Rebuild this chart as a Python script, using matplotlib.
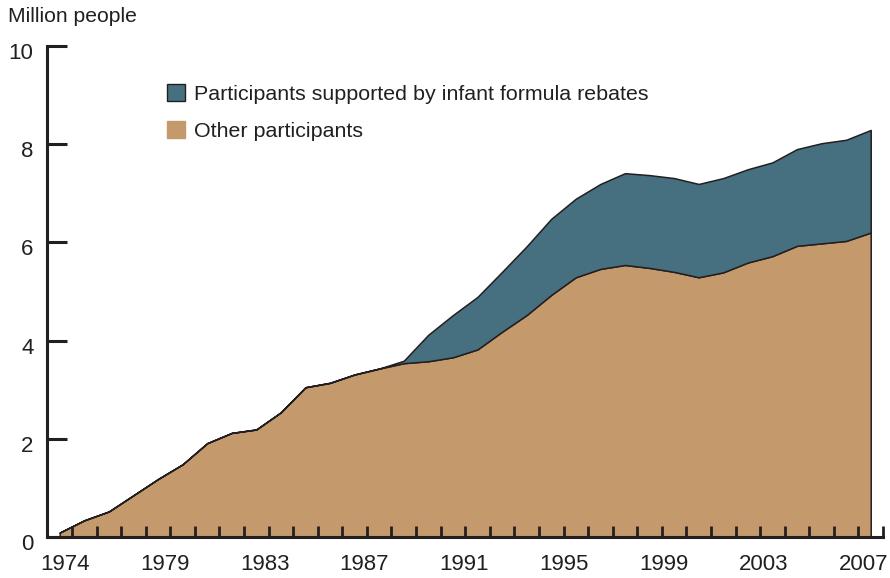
import numpy as np
import matplotlib
matplotlib.use("Agg")
import matplotlib.pyplot as plt
from matplotlib.patches import Patch
from matplotlib.transforms import ScaledTranslation

plt.rcParams['font.family'] = ['Liberation Sans', 'DejaVu Sans']

# ---- data ----
years = list(range(1974, 2008))
all_participants = [0.09, 0.34, 0.52, 0.85, 1.18, 1.48, 1.91, 2.12, 2.19, 2.54,
                    3.05, 3.14, 3.31, 3.43, 3.59, 4.12, 4.52, 4.89, 5.40, 5.92,
                    6.48, 6.89, 7.19, 7.41, 7.37, 7.31, 7.19, 7.31, 7.49, 7.63,
                    7.90, 8.02, 8.09, 8.29]
other_participants = [0.09, 0.34, 0.52, 0.85, 1.18, 1.48, 1.91, 2.12, 2.19, 2.54,
                      3.05, 3.14, 3.31, 3.43, 3.54, 3.58, 3.66, 3.82, 4.18, 4.52,
                      4.93, 5.29, 5.46, 5.54, 5.48, 5.40, 5.29, 5.39, 5.59, 5.72,
                      5.93, 5.98, 6.03, 6.20]
xtick_labels = ['1974', '1979', '1983', '1987', '1991', '1995', '1999', '2003', '2007']
yticks = [0, 2, 4, 6, 8, 10]
series_names = ['Participants supported by infant formula rebates', 'Other participants']

BLUE = '#466F80'
TAN = '#C49A6C'
DARK = '#231F20'

W, H = 890, 578
fig = plt.figure(figsize=(W / 100, H / 100), dpi=100)
ax = fig.add_axes([47.4 / W, 1 - 537 / H, (883 - 47.4) / W, (537 - 46) / H])

x = np.arange(len(years))
other = np.array(other_participants)
total = np.array(all_participants)

ax.fill_between(x, 0, other, facecolor=TAN, edgecolor=DARK, linewidth=1.1, zorder=2)
ax.fill_between(x, other, total, facecolor=BLUE, edgecolor=DARK, linewidth=1.1, zorder=2)

ax.set_xlim(-0.5, len(years) - 0.5)
ax.set_ylim(0, 10)

for s in ['top', 'right']:
    ax.spines[s].set_visible(False)
for s in ['left', 'bottom']:
    ax.spines[s].set_linewidth(2.2)
    ax.spines[s].set_color(DARK)
    ax.spines[s].set_zorder(5)
    ax.spines[s].set_capstyle('projecting')

# y ticks
ax.set_yticks(yticks)
ax.set_yticklabels([str(v) for v in yticks])
ax.tick_params(axis='y', direction='in', length=14.5, width=2.2, color=DARK,
               labelsize=16, labelcolor=DARK, pad=10)
for lab in ax.get_yticklabels():
    lab.set_transform(lab.get_transform() + ScaledTranslation(0, -5 / 100, fig.dpi_scale_trans))

# x ticks: minor marks at year boundaries, major labels evenly spread
ax.set_xticks(np.arange(-0.5, len(years), 1.0), minor=True)
ax.set_xticks(np.linspace(0.22, 32.7, len(xtick_labels)))
ax.set_xticklabels(xtick_labels)
ax.tick_params(axis='x', which='major', length=0, labelsize=16, labelcolor=DARK, pad=12)
ax.tick_params(axis='x', which='minor', direction='in', length=8, width=2.0, color=DARK)
for t in ax.xaxis.get_minor_ticks():
    t.tick1line.set_zorder(6)
ax.set_axisbelow(False)

fig.text(8 / W, 1 - 17 / H, 'Million people', fontsize=15.2, color=DARK, va='center', ha='left')

handles = [Patch(facecolor=BLUE, edgecolor=DARK, linewidth=1.0),
           Patch(facecolor=TAN, edgecolor=TAN, linewidth=1.0)]
leg = ax.legend(handles, series_names, loc='upper left',
                bbox_to_anchor=(167 / W, 1 - 84 / H), bbox_transform=fig.transFigure,
                frameon=False, fontsize=15.4, handlelength=0.85, handleheight=0.85,
                handletextpad=0.4, labelspacing=0.8, borderpad=0, borderaxespad=0)
for t in leg.get_texts():
    t.set_color(DARK)

fig.savefig('out.png', dpi=100)
